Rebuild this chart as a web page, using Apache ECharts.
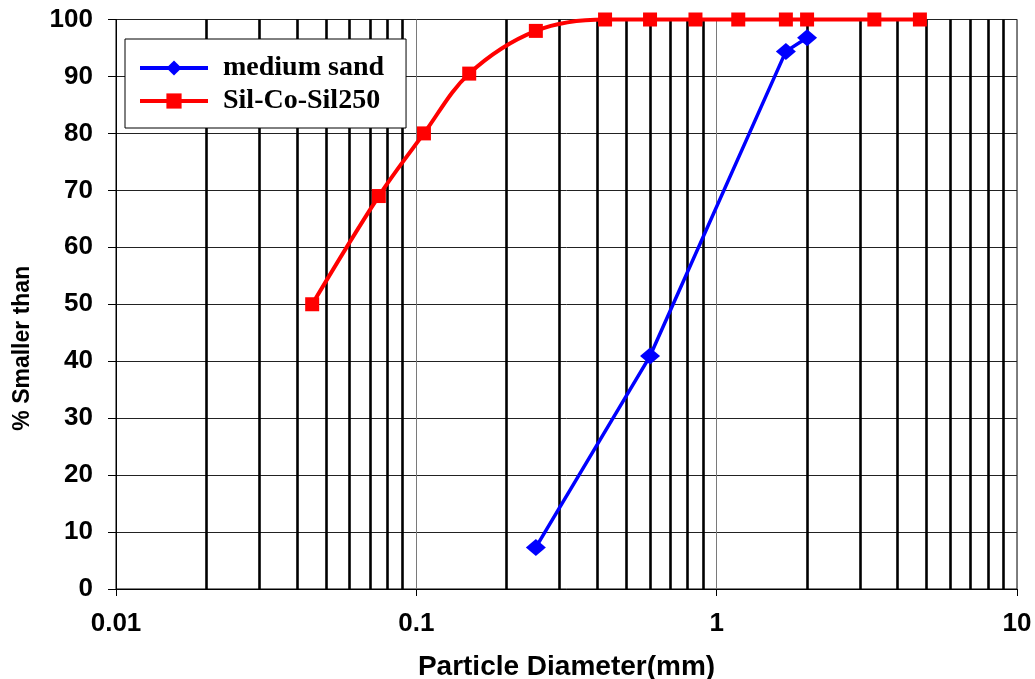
<!DOCTYPE html>
<html>
<head>
<meta charset="utf-8">
<script src="https://cdn.jsdelivr.net/npm/echarts@6/dist/echarts.min.js"></script>
<style>
html,body{margin:0;padding:0;background:#fff;}
#chart{width:1035px;height:679px;}
</style>
</head>
<body>
<div id="chart"></div>
<script>
// Data
const sandSizes = [0.25, 0.6, 1.7, 2];
const sandPercent = [7.3, 40.9, 94.4, 96.8];

const silSizes = [0.045, 0.075, 0.106, 0.15, 0.25, 0.425, 0.6, 0.85, 1.18, 1.7, 2, 3.35, 4.75];
const silPercent = [50, 69, 80, 90.5, 98, 100, 100, 100, 100, 100, 100, 100, 100];

const minorGridValues = [0.02, 0.03, 0.04, 0.05, 0.06, 0.07, 0.08, 0.09,
  0.2, 0.3, 0.4, 0.5, 0.6, 0.7, 0.8, 0.9,
  2, 3, 4, 5, 6, 7, 8, 9];

const seriesNames = ['medium sand', 'Sil-Co-Sil250'];

const sandData = sandSizes.map((x, i) => [x, sandPercent[i]]);
const silData = silSizes.map((x, i) => [x, silPercent[i]]);

const chart = echarts.init(document.getElementById('chart'), null, {renderer: 'canvas'});
chart.setOption({
  animation: false,
  backgroundColor: '#fff',
  grid: {
    left: 116, right: 18, top: 19.5, bottom: 90,
    containLabel: false,
    outerBoundsMode: 'none',
    show: true, borderColor: '#000', borderWidth: 1, backgroundColor: 'transparent'
  },
  legend: {
    data: seriesNames,
    orient: 'vertical',
    left: 125, top: 39,
    padding: [15, 22, 13, 13],
    itemGap: 5,
    itemWidth: 68,
    itemHeight: 19,
    backgroundColor: '#fff',
    borderColor: '#000',
    borderWidth: 1,
    borderRadius: 0,
    z: 20,
    lineStyle: {width: 4},
    textStyle: {
      fontFamily: '"Liberation Serif", "Times New Roman", serif',
      fontWeight: 'bold',
      fontSize: 28,
      lineHeight: 26,
      color: '#000',
      padding: [0, 0, 0, 10]
    }
  },
  xAxis: {
    type: 'log',
    logBase: 10,
    min: 0.01,
    max: 10,
    name: 'Particle Diameter(mm)',
    nameLocation: 'middle',
    nameGap: 64,
    nameTextStyle: {
      fontFamily: '"Liberation Sans", Arial, sans-serif',
      fontWeight: 'bold', fontSize: 28, color: '#000'
    },
    axisLine: {show: true, lineStyle: {color: '#000', width: 1}},
    axisTick: {show: true, inside: false, length: 7, lineStyle: {color: '#000', width: 1}},
    axisLabel: {
      margin: 22,
      fontFamily: '"Liberation Sans", Arial, sans-serif',
      fontWeight: 'bold', fontSize: 26, color: '#000',
      formatter: v => String(Number(Number(v).toPrecision(3)))
    },
    splitLine: {show: true, lineStyle: {color: '#7a7a7a', width: 1}},
    minorTick: {show: false},
    minorSplitLine: {show: false}
  },
  yAxis: {
    type: 'value',
    min: 0,
    max: 100,
    interval: 10,
    name: '% Smaller than',
    nameLocation: 'middle',
    nameGap: 82,
    nameTextStyle: {
      fontFamily: '"Liberation Sans", Arial, sans-serif',
      fontWeight: 'bold', fontSize: 23, color: '#000',
      padding: [0, 88, 0, 0]
    },
    axisLine: {show: true, lineStyle: {color: '#000', width: 1}},
    axisTick: {show: true, inside: false, length: 8, lineStyle: {color: '#000', width: 1}},
    axisLabel: {
      margin: 23,
      fontFamily: '"Liberation Sans", Arial, sans-serif',
      fontWeight: 'bold', fontSize: 26, color: '#000'
    },
    splitLine: {show: true, lineStyle: {color: '#222', width: 1}}
  },
  series: [
    {
      name: 'minor grid',
      type: 'line',
      data: [],
      z: 1,
      silent: true,
      markLine: {
        silent: true,
        symbol: ['none', 'none'],
        label: {show: false},
        lineStyle: {color: '#000', width: 2.6, type: 'solid'},
        emphasis: {disabled: true},
        data: minorGridValues.map(v => ({xAxis: v}))
      }
    },
    {
      name: seriesNames[0],
      type: 'line',
      data: sandData,
      z: 5,
      clip: false,
      smooth: false,
      symbol: 'diamond',
      symbolSize: [20, 17],
      itemStyle: {color: '#0000ff'},
      lineStyle: {color: '#0000ff', width: 3.5}
    },
    {
      name: seriesNames[1],
      type: 'line',
      data: silData,
      z: 6,
      clip: false,
      smooth: 0.35,
      symbol: 'rect',
      symbolSize: 14,
      itemStyle: {color: '#ff0000'},
      lineStyle: {color: '#ff0000', width: 4}
    }
  ]
});
</script>
</body>
</html>
